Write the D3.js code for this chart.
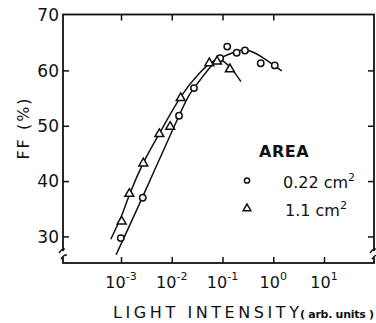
<!DOCTYPE html>
<html>
<head>
<meta charset="utf-8">
<script src="https://cdn.jsdelivr.net/npm/d3@7"></script>
<style>
  body { margin: 0; background: #fff; }
  svg text { font-family: "DejaVu Sans", "Liberation Sans", sans-serif; fill: #111; }
</style>
</head>
<body>
<div id="chart"></div>
<script>
// measured points, area 0.22 cm2 (circles)
const smallIntensity = [0.00099, 0.00268, 0.0139, 0.0274, 0.09, 0.124, 0.19, 0.277, 0.566, 1.07];
const smallFF = [29.7, 37.0, 51.8, 56.8, 62.2, 64.3, 63.2, 63.6, 61.3, 60.9];

// measured points, area 1.1 cm2 (triangles)
const largeIntensity = [0.00103, 0.00146, 0.00275, 0.0057, 0.0093, 0.015, 0.055, 0.078, 0.14];
const largeFF = [32.8, 37.8, 43.3, 48.6, 49.9, 55.1, 61.4, 61.7, 60.3];

// hand-drawn fit curves
const smallFitX = [0.0008, 0.00268, 0.0139, 0.0274, 0.06, 0.1, 0.2, 0.35, 0.7, 1.47];
const smallFitY = [26.7, 37.2, 51.8, 56.8, 60.8, 62.4, 63.5, 63.5, 62.0, 59.9];
const largeFitX = [0.00063, 0.001, 0.00146, 0.00275, 0.0057, 0.015, 0.035, 0.07, 0.11, 0.16, 0.23];
const largeFitY = [29.5, 33.5, 37.5, 43.3, 48.6, 55.2, 59.5, 61.8, 61.5, 60.0, 58.0];

const yTicks = [30, 40, 50, 60, 70];
const xExponents = [-3, -2, -1, 0, 1];

const width = 376, height = 323;
const margin = { top: 14.5, right: 2, bottom: 60, left: 63 };

const svg = d3.select("#chart").append("svg")
  .attr("width", width)
  .attr("height", height);

const x = d3.scaleLog()
  .domain([Math.pow(10, -4.143), Math.pow(10, 1.985)])
  .range([margin.left, width - margin.right]);

const y = d3.scaleLinear()
  .domain([25.2, 70.1])
  .range([height - margin.bottom, margin.top]);

const xTickVals = xExponents.map(e => Math.pow(10, e));

// frame with inward ticks
svg.append("g")
  .attr("transform", `translate(0,${y.range()[0]})`)
  .call(d3.axisTop(x).tickValues(xTickVals).tickSize(6).tickFormat(""))
  .call(g => g.select(".domain").remove());
svg.append("g")
  .attr("transform", `translate(0,${y.range()[1]})`)
  .call(d3.axisBottom(x).tickValues(xTickVals.slice(0, 4)).tickSize(6).tickFormat(""))
  .call(g => g.select(".domain").remove());
svg.append("g")
  .attr("transform", `translate(${x.range()[0]},0)`)
  .call(d3.axisRight(y).tickValues(yTicks.slice(0, 4)).tickSize(6).tickFormat(""))
  .call(g => g.select(".domain").remove());
svg.append("g")
  .attr("transform", `translate(${x.range()[1]},0)`)
  .call(d3.axisLeft(y).tickValues(yTicks.slice(0, 4)).tickSize(6).tickFormat(""))
  .call(g => g.select(".domain").remove());
svg.selectAll(".tick line").attr("stroke", "#111").attr("stroke-width", 1.5);

svg.append("rect")
  .attr("x", x.range()[0])
  .attr("y", y.range()[1])
  .attr("width", x.range()[1] - x.range()[0])
  .attr("height", y.range()[0] - y.range()[1])
  .attr("fill", "none")
  .attr("stroke", "#111")
  .attr("stroke-width", 1.8);

// axis breaks on both vertical sides
const breakY = y(26.8);
[x.range()[0], x.range()[1]].forEach(bx => {
  svg.append("rect")
    .attr("x", bx - 3).attr("y", breakY - 3).attr("width", 6).attr("height", 6)
    .attr("fill", "#fff");
  svg.append("path")
    .attr("d", `M${bx - 4},${breakY - 1} q3,-5 6,-4 M${bx - 2},${breakY + 5} q3,-5 6,-4`)
    .attr("fill", "none")
    .attr("stroke", "#111")
    .attr("stroke-width", 1.4);
});

// y tick labels
svg.selectAll(".ylab")
  .data(yTicks)
  .enter()
  .append("text")
  .attr("x", margin.left - 4)
  .attr("y", d => y(d))
  .attr("dy", "0.36em")
  .attr("text-anchor", "end")
  .attr("font-size", 17)
  .text(d => d);

// x tick labels as powers of ten
const xLab = svg.selectAll(".xlab")
  .data(xExponents)
  .enter()
  .append("text")
  .attr("x", d => x(Math.pow(10, d)))
  .attr("y", 288)
  .attr("text-anchor", "middle")
  .attr("font-size", 16);
xLab.append("tspan").text("10");
xLab.append("tspan").attr("dy", -8).attr("font-size", 11).text(d => d);

// axis titles
svg.append("text")
  .attr("x", 113)
  .attr("y", 318)
  .attr("font-size", 16)
  .attr("textLength", 186)
  .attr("lengthAdjust", "spacing")
  .text("LIGHT INTENSITY");
svg.append("text")
  .attr("x", 300)
  .attr("y", 318)
  .attr("font-size", 11)
  .attr("font-weight", "bold")
  .attr("textLength", 74)
  .attr("lengthAdjust", "spacing")
  .text("( arb. units )");

svg.append("text")
  .attr("transform", "translate(29,128) rotate(-90)")
  .attr("text-anchor", "middle")
  .attr("font-size", 16)
  .attr("letter-spacing", 2)
  .text("FF  (%)");

// fit curves
const line = d3.line()
  .x(d => x(d[0]))
  .y(d => y(d[1]))
  .curve(d3.curveNatural);

svg.append("path")
  .datum(d3.zip(smallFitX, smallFitY))
  .attr("d", line)
  .attr("fill", "none")
  .attr("stroke", "#111")
  .attr("stroke-width", 1.5);

svg.append("path")
  .datum(d3.zip(largeFitX, largeFitY))
  .attr("d", line)
  .attr("fill", "none")
  .attr("stroke", "#111")
  .attr("stroke-width", 1.5);

// markers
const triangle = d3.symbol().type(d3.symbolTriangle).size(34);

svg.selectAll(".circ")
  .data(d3.zip(smallIntensity, smallFF))
  .enter()
  .append("circle")
  .attr("cx", d => x(d[0]))
  .attr("cy", d => y(d[1]))
  .attr("r", 3.2)
  .attr("fill", "#fff")
  .attr("stroke", "#111")
  .attr("stroke-width", 1.5);

svg.selectAll(".tri")
  .data(d3.zip(largeIntensity, largeFF))
  .enter()
  .append("path")
  .attr("d", triangle)
  .attr("transform", d => `translate(${x(d[0])},${y(d[1]) + 0.5})`)
  .attr("fill", "#fff")
  .attr("stroke", "#111")
  .attr("stroke-width", 1.5);

// legend
svg.append("text")
  .attr("x", 259)
  .attr("y", 157)
  .attr("font-size", 16)
  .attr("font-weight", "bold")
  .attr("letter-spacing", 0.5)
  .text("AREA");

svg.append("circle")
  .attr("cx", 247).attr("cy", 180.5).attr("r", 2.6)
  .attr("fill", "#fff").attr("stroke", "#111").attr("stroke-width", 1.5);
svg.append("path")
  .attr("d", d3.symbol().type(d3.symbolTriangle).size(26))
  .attr("transform", "translate(247,208.5)")
  .attr("fill", "#fff").attr("stroke", "#111").attr("stroke-width", 1.5);

const leg1 = svg.append("text").attr("x", 283).attr("y", 188).attr("font-size", 16);
leg1.append("tspan").text("0.22 cm");
leg1.append("tspan").attr("dy", -7).attr("font-size", 11).text("2");

const leg2 = svg.append("text").attr("x", 285).attr("y", 216).attr("font-size", 16);
leg2.append("tspan").text("1.1 cm");
leg2.append("tspan").attr("dy", -7).attr("font-size", 11).text("2");
</script>
</body>
</html>
